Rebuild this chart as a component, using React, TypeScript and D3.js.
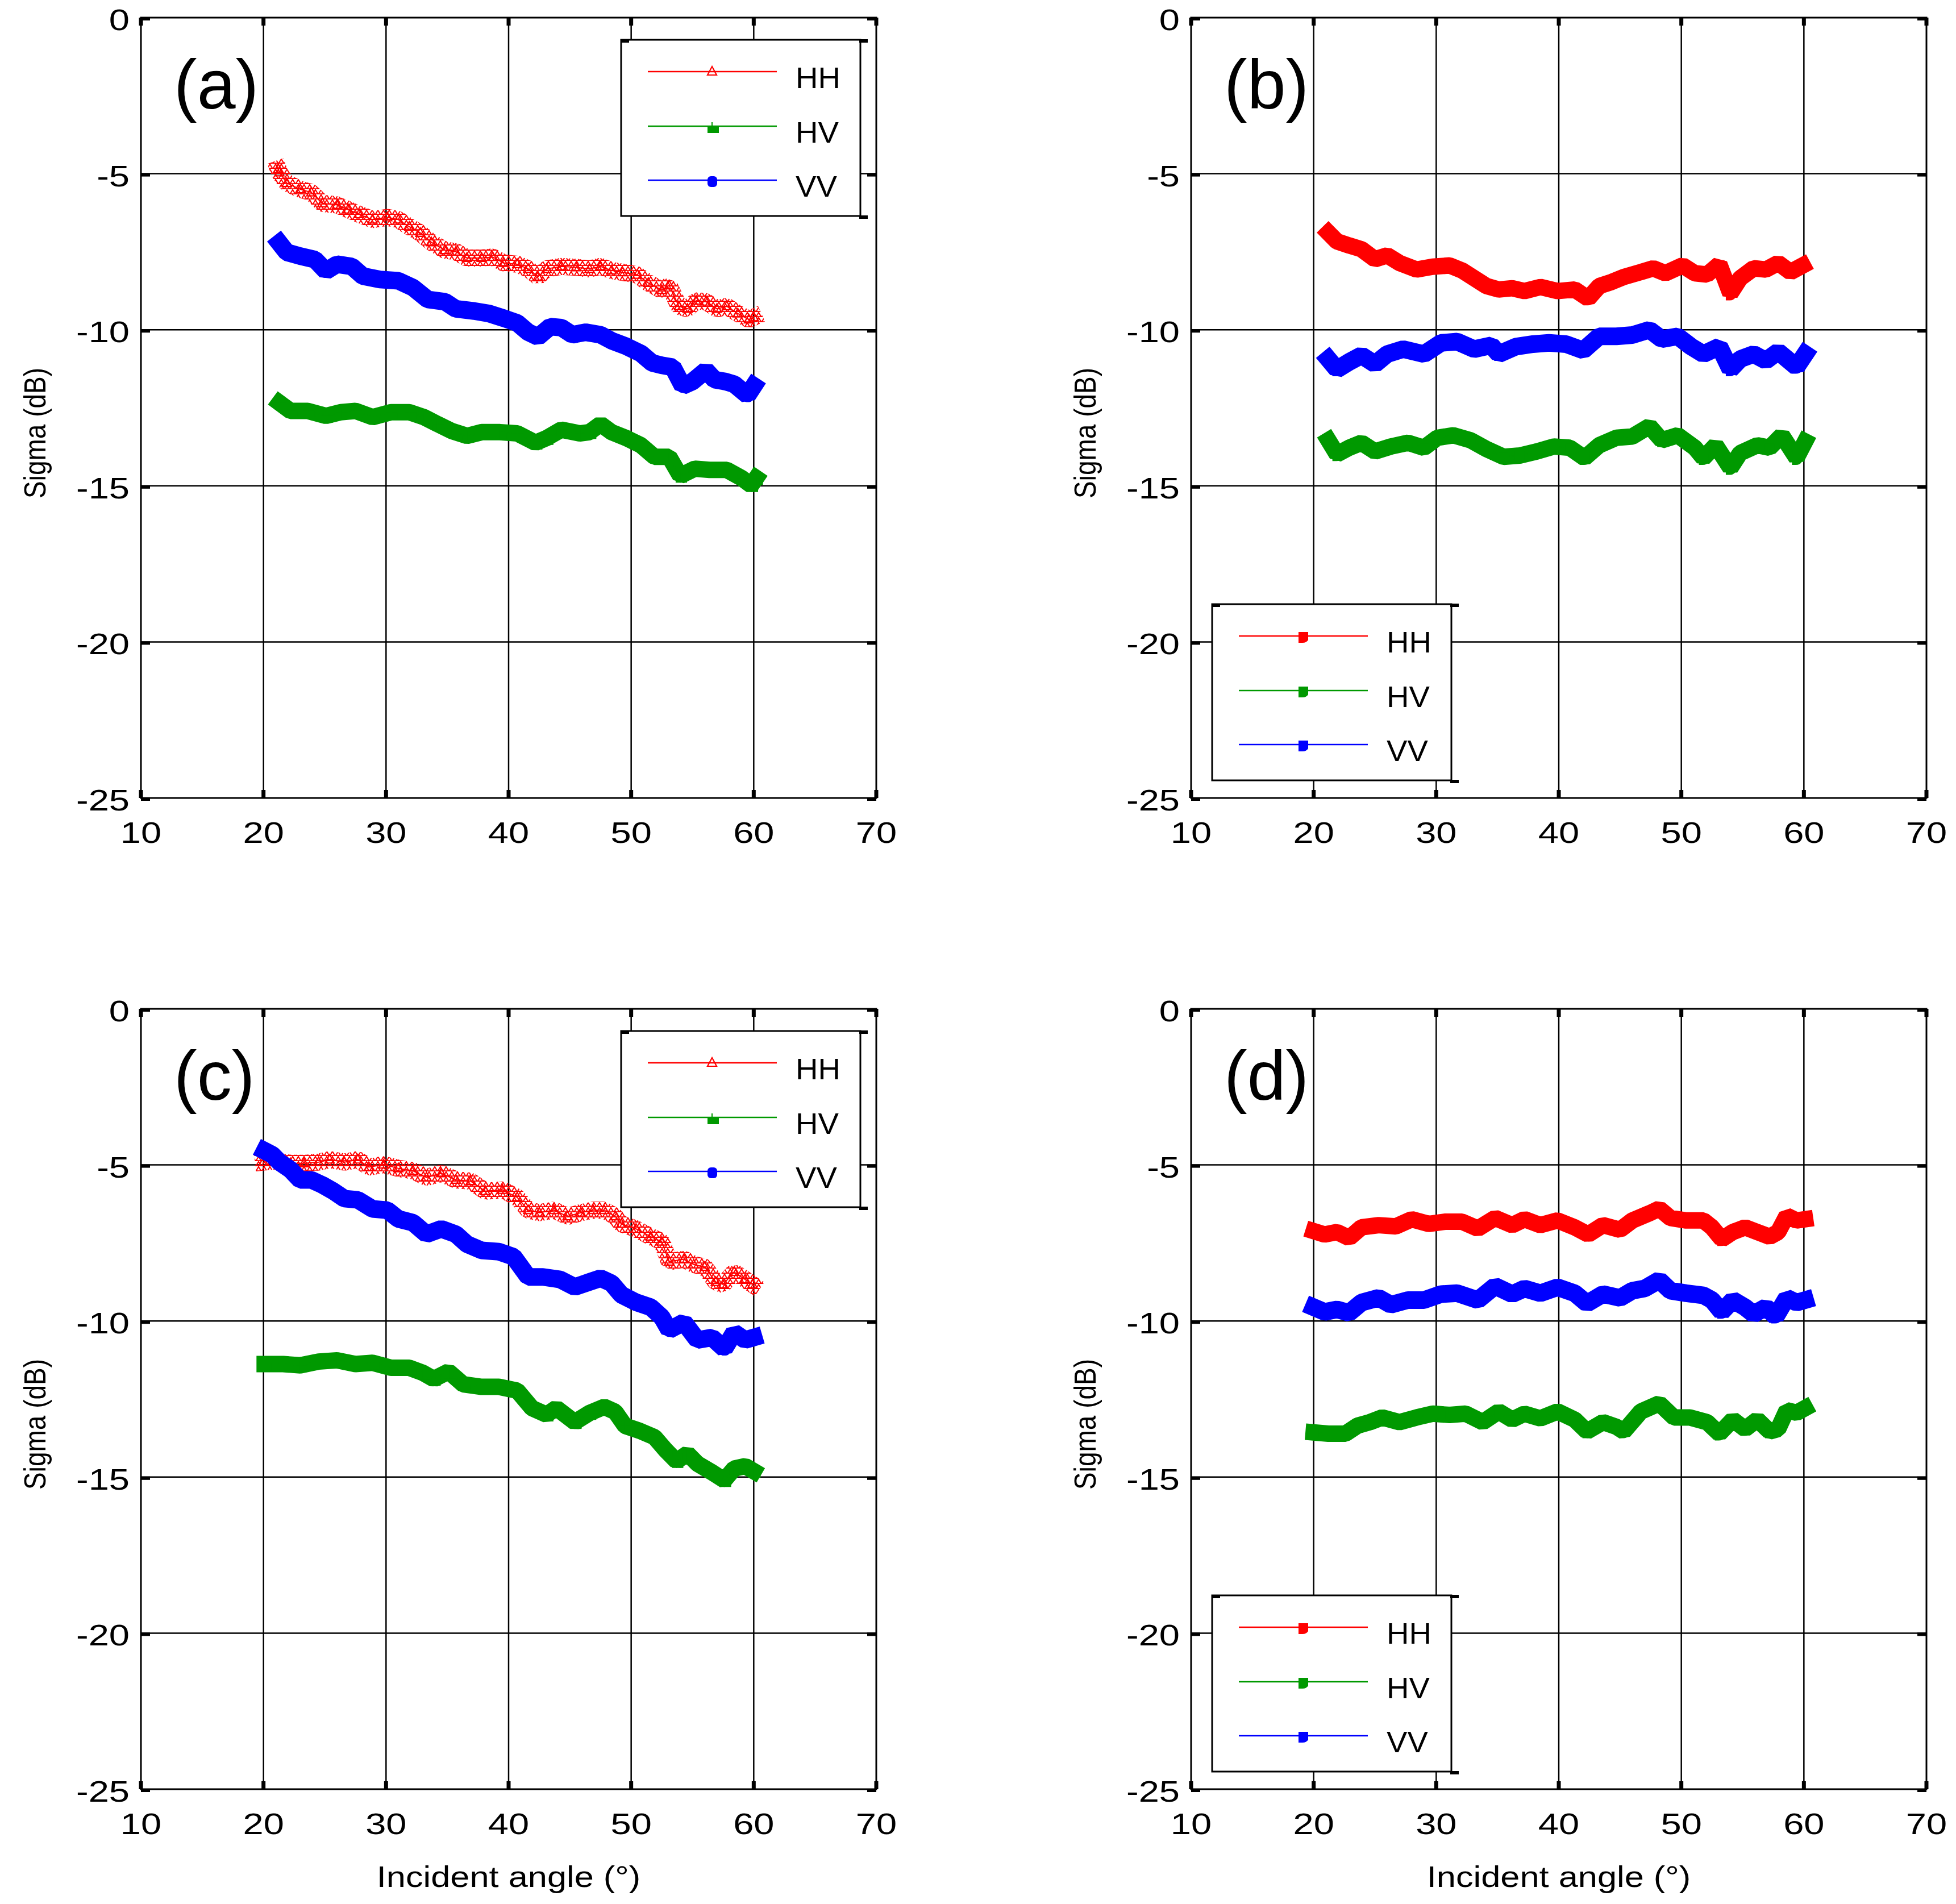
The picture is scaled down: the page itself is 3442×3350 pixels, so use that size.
import * as d3 from "d3";

type Pt = [number, number];

// axis ticks
const X_TICKS = [10, 20, 30, 40, 50, 60, 70];
const Y_TICKS = [0, -5, -10, -15, -20, -25];
const NAMES = ["HH", "HV", "VV"];
const COLORS: Record<string, string> = { HH: "#ff0000", HV: "#009900", VV: "#0000ff" };

// (a)
const A_HH: Pt[] = [[21.2,-4.85],[21.3,-4.96],[21.9,-5.3],[23.0,-5.5],[23.9,-5.6],[24.8,-5.95],[26.0,-6.0],[26.9,-6.15],[27.8,-6.3],[28.9,-6.47],[30.1,-6.4],[31.0,-6.47],[31.9,-6.7],[32.8,-6.9],[33.7,-7.2],[34.8,-7.45],[35.7,-7.5],[36.6,-7.7],[37.8,-7.7],[38.7,-7.67],[39.6,-7.86],[40.7,-7.9],[41.6,-8.05],[42.4,-8.3],[43.1,-8.05],[44.3,-7.97],[45.5,-8.0],[46.6,-8.05],[47.5,-7.97],[48.4,-8.1],[49.3,-8.16],[50.5,-8.24],[51.4,-8.5],[52.5,-8.73],[53.1,-8.58],[53.9,-9.25],[54.6,-9.33],[55.3,-9.07],[56.1,-9.1],[57.0,-9.33],[57.8,-9.25],[58.7,-9.48],[59.6,-9.67],[60.0,-9.6]];
const A_HV: Pt[] = [[21.3,-12.34],[22.2,-12.6],[23.6,-12.6],[25.1,-12.76],[26.3,-12.64],[27.5,-12.6],[28.9,-12.8],[30.4,-12.64],[31.9,-12.64],[33.1,-12.8],[34.2,-13.02],[35.4,-13.25],[36.6,-13.4],[37.8,-13.28],[39.3,-13.28],[40.7,-13.32],[42.2,-13.62],[43.1,-13.47],[44.3,-13.2],[45.8,-13.32],[46.6,-13.28],[47.5,-13.02],[48.4,-13.28],[49.6,-13.47],[50.8,-13.7],[51.9,-14.07],[53.1,-14.07],[54.0,-14.68],[55.2,-14.45],[56.4,-14.49],[57.8,-14.49],[59.0,-14.75],[59.8,-14.98],[60.2,-14.75]];
const A_VV: Pt[] = [[21.3,-7.22],[21.9,-7.52],[23.0,-7.64],[24.2,-7.75],[25.1,-8.12],[26.0,-7.9],[27.2,-7.97],[28.1,-8.28],[29.5,-8.39],[31.0,-8.43],[32.2,-8.65],[33.4,-9.03],[34.8,-9.1],[35.7,-9.33],[37.2,-9.4],[38.4,-9.48],[39.6,-9.63],[40.7,-9.78],[41.6,-10.08],[42.4,-10.23],[43.4,-9.9],[44.3,-9.93],[45.2,-10.16],[46.3,-10.08],[47.5,-10.16],[48.4,-10.35],[49.6,-10.53],[50.8,-10.76],[51.7,-11.06],[52.5,-11.14],[53.4,-11.2],[54.2,-11.8],[55.0,-11.66],[56.1,-11.3],[56.8,-11.6],[57.7,-11.66],[58.4,-11.74],[59.5,-12.1],[60.0,-11.8]];

// (b)
const B_HH: Pt[] = [[21.2,-6.89],[21.9,-7.17],[22.9,-7.3],[23.9,-7.42],[25.0,-7.74],[26.0,-7.62],[27.0,-7.86],[28.4,-8.07],[29.7,-7.98],[31.1,-7.94],[32.1,-8.1],[33.1,-8.35],[34.1,-8.6],[35.1,-8.71],[36.2,-8.67],[37.2,-8.76],[38.5,-8.63],[39.9,-8.76],[41.3,-8.71],[42.4,-9.0],[43.3,-8.6],[44.3,-8.47],[45.3,-8.31],[46.7,-8.15],[47.7,-8.03],[48.7,-8.19],[50.1,-7.94],[51.1,-8.19],[52.1,-8.23],[53.1,-7.9],[54.0,-8.84],[54.8,-8.35],[55.9,-8.03],[56.9,-8.07],[57.9,-7.86],[58.9,-8.15],[59.9,-7.94]];
const B_HV: Pt[] = [[21.2,-13.54],[21.9,-13.99],[22.9,-13.78],[23.9,-13.62],[25.0,-13.9],[26.3,-13.74],[27.7,-13.62],[29.0,-13.78],[30.1,-13.46],[31.4,-13.38],[32.8,-13.54],[34.1,-13.82],[35.5,-14.07],[36.8,-14.03],[38.2,-13.9],[39.6,-13.74],[40.9,-13.78],[42.1,-14.11],[43.3,-13.7],[44.7,-13.46],[46.0,-13.42],[47.4,-13.09],[48.4,-13.54],[49.7,-13.38],[51.1,-13.78],[51.8,-14.11],[52.8,-13.7],[54.0,-14.43],[54.8,-13.95],[56.2,-13.7],[57.2,-13.78],[58.2,-13.38],[59.4,-14.11],[60.1,-13.58]];
const B_VV: Pt[] = [[21.2,-10.94],[21.9,-11.27],[22.9,-11.03],[23.9,-10.82],[25.0,-11.1],[26.0,-10.78],[27.3,-10.62],[29.0,-10.78],[30.4,-10.42],[31.7,-10.38],[33.1,-10.62],[34.5,-10.5],[35.1,-10.78],[36.5,-10.54],[37.9,-10.46],[39.2,-10.42],[40.6,-10.46],[42.0,-10.66],[43.3,-10.21],[44.7,-10.21],[46.0,-10.17],[47.4,-10.0],[48.4,-10.3],[49.7,-10.21],[50.8,-10.54],[51.8,-10.78],[53.1,-10.54],[54.0,-11.27],[54.8,-10.94],[55.9,-10.78],[56.9,-10.99],[57.9,-10.7],[59.4,-11.19],[60.1,-10.78]];

// (c)
const C_HH: Pt[] = [[20.0,-4.91],[21.0,-4.87],[22.2,-4.95],[23.3,-4.95],[24.5,-4.91],[25.4,-4.83],[26.6,-4.91],[27.7,-4.83],[28.6,-5.07],[29.8,-4.99],[31.0,-5.11],[32.2,-5.19],[33.3,-5.4],[34.5,-5.27],[35.7,-5.48],[36.9,-5.52],[38.1,-5.84],[39.5,-5.8],[40.7,-6.04],[41.6,-6.45],[42.5,-6.53],[43.7,-6.45],[44.8,-6.65],[45.9,-6.53],[46.9,-6.45],[47.8,-6.45],[48.7,-6.65],[49.2,-6.89],[50.4,-7.05],[51.6,-7.3],[52.5,-7.46],[53.1,-8.1],[54.3,-8.02],[55.1,-8.19],[56.0,-8.27],[56.9,-8.75],[57.5,-8.83],[58.4,-8.43],[59.3,-8.67],[59.9,-8.83]];
const C_HV: Pt[] = [[20.1,-11.38],[21.6,-11.38],[23.0,-11.42],[24.5,-11.3],[26.0,-11.26],[27.5,-11.38],[28.9,-11.34],[30.4,-11.5],[31.9,-11.5],[33.0,-11.66],[33.9,-11.86],[35.1,-11.62],[36.3,-12.03],[37.8,-12.11],[39.2,-12.11],[40.7,-12.23],[41.9,-12.79],[43.1,-13.0],[43.9,-12.79],[45.4,-13.24],[46.6,-12.95],[47.8,-12.75],[48.7,-12.91],[49.5,-13.36],[50.7,-13.52],[51.9,-13.72],[52.8,-14.13],[53.7,-14.49],[54.6,-14.25],[55.4,-14.57],[56.6,-14.85],[57.6,-15.1],[58.4,-14.73],[59.3,-14.65],[60.0,-14.81]];
const C_VV: Pt[] = [[20.1,-4.55],[20.7,-4.67],[21.3,-4.91],[22.2,-5.15],[23.0,-5.48],[23.9,-5.48],[24.8,-5.64],[25.7,-5.84],[26.6,-6.08],[27.7,-6.12],[28.9,-6.41],[30.1,-6.45],[31.0,-6.73],[32.2,-6.85],[33.3,-7.22],[34.5,-7.05],[35.7,-7.22],[36.6,-7.54],[37.8,-7.74],[39.2,-7.78],[40.4,-7.94],[41.6,-8.59],[42.8,-8.59],[44.2,-8.67],[45.4,-8.91],[46.6,-8.75],[47.5,-8.63],[48.4,-8.79],[49.2,-9.16],[50.4,-9.4],[51.6,-9.56],[52.5,-9.88],[53.1,-10.29],[54.3,-10.04],[55.4,-10.61],[56.6,-10.53],[57.6,-10.89],[58.4,-10.37],[59.3,-10.61],[60.0,-10.53]];

// (d)
const D_HH: Pt[] = [[20.0,-7.12],[20.9,-7.23],[21.9,-7.15],[22.9,-7.34],[23.9,-7.0],[25.3,-6.93],[26.7,-6.97],[28.0,-6.74],[29.4,-6.89],[30.7,-6.82],[32.1,-6.82],[33.4,-7.04],[34.8,-6.7],[36.2,-6.93],[37.2,-6.74],[38.5,-6.93],[39.9,-6.78],[41.3,-7.0],[42.4,-7.23],[43.6,-6.93],[45.0,-7.08],[46.0,-6.78],[47.4,-6.55],[48.2,-6.4],[49.1,-6.7],[50.4,-6.78],[51.8,-6.78],[52.5,-7.0],[53.3,-7.38],[54.2,-7.15],[55.2,-7.0],[56.2,-7.15],[57.2,-7.3],[57.9,-7.15],[58.6,-6.63],[59.4,-6.78],[60.1,-6.74]];
const D_HV: Pt[] = [[20.0,-13.57],[21.2,-13.61],[22.6,-13.61],[23.6,-13.35],[24.6,-13.24],[25.6,-13.09],[27.0,-13.24],[28.4,-13.09],[29.7,-12.97],[31.1,-13.01],[32.4,-12.97],[33.8,-13.24],[35.1,-12.9],[36.2,-13.16],[37.2,-12.97],[38.5,-13.12],[39.9,-12.9],[41.3,-13.16],[42.3,-13.54],[43.6,-13.24],[44.7,-13.39],[45.3,-13.54],[46.7,-12.9],[48.2,-12.64],[49.4,-13.09],[50.7,-13.09],[52.1,-13.24],[53.1,-13.61],[54.2,-13.16],[55.2,-13.46],[56.2,-13.16],[57.2,-13.54],[57.9,-13.46],[58.6,-12.86],[59.4,-12.94],[60.1,-12.79]];
const D_VV: Pt[] = [[20.0,-9.56],[20.9,-9.71],[21.9,-9.63],[22.9,-9.74],[23.9,-9.41],[25.3,-9.26],[26.3,-9.48],[27.7,-9.33],[29.0,-9.33],[30.4,-9.14],[31.7,-9.11],[33.4,-9.33],[34.8,-8.88],[36.2,-9.14],[37.2,-8.96],[38.5,-9.11],[39.9,-8.92],[41.3,-9.11],[42.3,-9.44],[43.6,-9.14],[45.0,-9.26],[46.0,-9.03],[47.0,-8.96],[48.2,-8.69],[49.1,-9.03],[50.4,-9.11],[51.8,-9.18],[52.5,-9.33],[53.3,-9.71],[54.2,-9.33],[55.2,-9.56],[55.9,-9.78],[56.9,-9.56],[57.7,-9.86],[58.6,-9.26],[59.4,-9.41],[60.1,-9.33]];

const PANELS = [
  { letter: "(a)", col: 0, row: 0, data: { HH: A_HH, HV: A_HV, VV: A_VV }, mixed: true },
  { letter: "(b)", col: 1, row: 0, data: { HH: B_HH, HV: B_HV, VV: B_VV }, mixed: false },
  { letter: "(c)", col: 0, row: 1, data: { HH: C_HH, HV: C_HV, VV: C_VV }, mixed: true },
  { letter: "(d)", col: 1, row: 1, data: { HH: D_HH, HV: D_HV, VV: D_VV }, mixed: false },
];

const COL_X = [248, 2096];
const ROW_Y = [31, 1775];
const PW = 1294;
const PH = 1373;
const FONT = "'Liberation Sans', Arial, Helvetica, sans-serif";

function Txt({ x, y, size, anchor = "start", sx = 1.18, rot = 0, children }: any) {
  const tf = `translate(${x},${y}) scale(${sx},1)` + (rot ? ` rotate(${rot})` : "");
  return (
    <text transform={tf} fontSize={size} textAnchor={anchor} fontFamily={FONT} fill="#000">
      {children}
    </text>
  );
}

function Marker({ kind, x, y, color }: { kind: string; x: number; y: number; color: string }) {
  if (kind === "tri")
    return <path d={`M${x},${y - 9} L${x + 8},${y + 6} L${x - 8},${y + 6} Z`} fill="none" stroke={color} strokeWidth={2.2} />;
  if (kind === "plus")
    return (
      <g>
        <rect x={x - 8} y={y} width={20} height={12} fill={color} />
        <line x1={x} x2={x} y1={y - 7} y2={y + 12} stroke={color} strokeWidth={2} />
      </g>
    );
  if (kind === "circ") return <rect x={x - 8} y={y - 7} width={17} height={19} rx={6} fill={color} />;
  return <path d={`M${x - 8},${y - 7} h17 v14 q-3,5 -10,5 h-7 Z`} fill={color} />;
}

function Panel({ p }: { p: (typeof PANELS)[number] }) {
  const left = COL_X[p.col];
  const top = ROW_Y[p.row];
  const x = d3.scaleLinear().domain([10, 70]).range([left, left + PW]);
  const y = d3.scaleLinear().domain([-25, 0]).range([top + PH, top]);
  const line = d3.line<Pt>().x((d) => x(d[0])).y((d) => y(d[1]));
  const data = p.data as Record<string, Pt[]>;
  const id = `tri${p.letter[1]}`;

  const legTR = p.mixed;
  const bx = legTR ? left + 845 : left + 37;
  const by = legTR ? top + 39 : top + 1032;
  const bw = 421;
  const bh = 310;
  const rowsY = [56, 152, 247];
  const legKinds = p.mixed ? ["tri", "plus", "circ"] : ["sq", "sq", "sq"];

  return (
    <g>
      <defs>
        <pattern id={id} patternUnits="userSpaceOnUse" width={10} height={9}>
          <path d="M5,0.8 L9.4,8.2 L0.6,8.2 Z" fill="none" stroke="#ff0000" strokeWidth={2} />
        </pattern>
      </defs>
      {/* grid */}
      {X_TICKS.slice(1, -1).map((t) => (
        <line key={`gx${t}`} x1={x(t)} x2={x(t)} y1={top} y2={top + PH} stroke="#000" strokeWidth={2.5} />
      ))}
      {Y_TICKS.slice(1, -1).map((t) => (
        <line key={`gy${t}`} x1={left} x2={left + PW} y1={y(t)} y2={y(t)} stroke="#000" strokeWidth={2.5} />
      ))}
      {/* series */}
      {NAMES.map((n) => {
        const pts = data[n];
        const c = COLORS[n];
        const patterned = p.mixed && n === "HH";
        const w = n === "VV" ? 31 : 29;
        const kind = p.mixed ? (n === "HH" ? "tri" : n === "HV" ? "plus" : "circ") : "sq";
        return (
          <g key={n}>
            <path
              d={line(pts) ?? ""}
              fill="none"
              stroke={patterned ? `url(#${id})` : c}
              strokeWidth={patterned ? 30 : w}
              strokeLinejoin="bevel"
              strokeLinecap="square"
            />
            <path d={line(pts) ?? ""} fill="none" stroke={c} strokeWidth={2} />
            {pts.map((d, i) => (
              <Marker key={i} kind={kind} x={x(d[0])} y={y(d[1])} color={c} />
            ))}
          </g>
        );
      })}
      {/* axes box */}
      <rect x={left} y={top} width={PW} height={PH} fill="none" stroke="#000" strokeWidth={3} />
      {X_TICKS.map((t) => (
        <g key={`tx${t}`}>
          <line x1={x(t)} x2={x(t)} y1={top + PH} y2={top + PH - 14} stroke="#000" strokeWidth={7} />
          <line x1={x(t)} x2={x(t)} y1={top} y2={top + 14} stroke="#000" strokeWidth={7} />
        </g>
      ))}
      {Y_TICKS.map((t) => (
        <g key={`ty${t}`}>
          <line x1={left} x2={left + 16} y1={y(t) + 2} y2={y(t) + 2} stroke="#000" strokeWidth={6} />
          <line x1={left + PW} x2={left + PW - 16} y1={y(t) + 2} y2={y(t) + 2} stroke="#000" strokeWidth={6} />
        </g>
      ))}
      {/* tick labels */}
      {X_TICKS.map((t) => (
        <Txt key={`lx${t}`} x={x(t)} y={top + PH + 79} size={52} anchor="middle" sx={1.25}>
          {t}
        </Txt>
      ))}
      {Y_TICKS.map((t) => (
        <Txt key={`ly${t}`} x={left - 20} y={y(t) + 22} size={52} anchor="end" sx={1.25}>
          {t}
        </Txt>
      ))}
      <Txt x={left - 168} y={top + 731} size={46} anchor="middle" sx={1.15} rot={-90}>
        Sigma (dB)
      </Txt>
      {p.row === 1 && (
        <Txt x={left + PW / 2} y={top + PH + 172} size={52} anchor="middle" sx={1.18}>
          Incident angle (°)
        </Txt>
      )}
      <Txt x={left + 58} y={top + 160} size={122} sx={1}>
        {p.letter}
      </Txt>
      {/* legend */}
      <g>
        <rect x={bx} y={by} width={bw} height={bh} fill="#fff" stroke="#000" strokeWidth={3} />
        <rect x={bx} y={by - 1} width={14} height={6} fill="#000" />
        <rect x={bx + bw - 2} y={by - 1} width={15} height={6} fill="#000" />
        <rect x={bx + bw - 2} y={by + bh - 1} width={15} height={6} fill="#000" />
        {NAMES.map((n, i) => (
          <g key={`lg${n}`}>
            <line x1={bx + 47} x2={bx + 274} y1={by + rowsY[i]} y2={by + rowsY[i]} stroke={COLORS[n]} strokeWidth={2.5} />
            <Marker kind={legKinds[i]} x={bx + 160} y={by + rowsY[i]} color={COLORS[n]} />
            <Txt x={bx + 307} y={by + rowsY[i] + 29} size={52} sx={1.05}>
              {n}
            </Txt>
          </g>
        ))}
      </g>
    </g>
  );
}

export default function App() {
  return (
    <svg
      width={3442}
      height={3350}
      style={{ position: "absolute", left: 0, top: 0, background: "#fff" }}
    >
      <rect width={3442} height={3350} fill="#fff" />
      {PANELS.map((p) => (
        <Panel key={p.letter} p={p} />
      ))}
    </svg>
  );
}
